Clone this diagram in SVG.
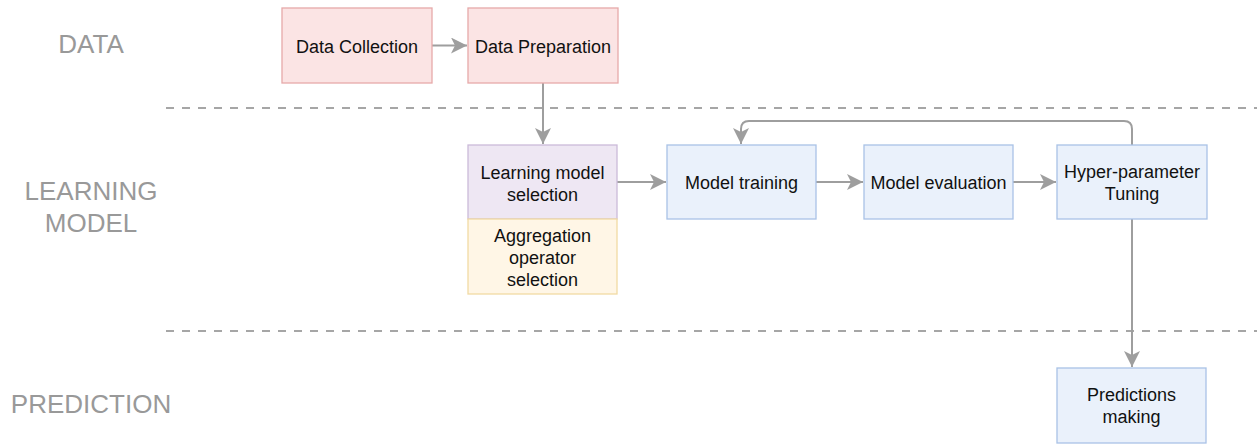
<svg xmlns="http://www.w3.org/2000/svg" width="1257" height="444" viewBox="0 0 1257 444">
<style>
.lane{font-family:"Liberation Sans",Arial,sans-serif;font-size:26px;fill:#999999;text-anchor:middle}
.t{font-family:"Liberation Sans",Arial,sans-serif;font-size:18px;fill:#111111;text-anchor:middle}
.pink{fill:#fbe4e4;stroke:#e6a9a9;stroke-width:1.3}
.purple{fill:#eee7f3;stroke:#cbbbd9;stroke-width:1.3}
.yellow{fill:#fff6e6;stroke:#f1daa4;stroke-width:1.3}
.blue{fill:#eaf1fb;stroke:#a9c2e6;stroke-width:1.3}
.c{fill:none;stroke:#9e9e9e;stroke-width:2;marker-end:url(#ah)}
.sep{fill:none;stroke:#a6a6a6;stroke-width:2;stroke-dasharray:8 8}
</style>
<defs>
<marker id="ah" viewBox="0 0 10 10" refX="10" refY="5" markerWidth="8" markerHeight="8" markerUnits="strokeWidth" orient="auto">
<path d="M0,0 L10,5 L0,10 L2.5,5 Z" fill="#9e9e9e"/>
</marker>
</defs>
<rect width="1257" height="444" fill="#ffffff"/>
<g id="lanes">
<text class="lane" x="91" y="53">DATA</text>
<text class="lane" x="91" y="200">LEARNING</text>
<text class="lane" x="91" y="232">MODEL</text>
<text class="lane" x="91" y="413">PREDICTION</text>
<line class="sep" x1="166" y1="108" x2="1257" y2="108"/>
<line class="sep" x1="166" y1="331" x2="1257" y2="331"/>
</g>
<g id="connectors">
<line class="c" x1="432" y1="45.5" x2="467" y2="45.5"/>
<line class="c" x1="543" y1="83" x2="543" y2="144"/>
<line class="c" x1="617" y1="182" x2="666" y2="182"/>
<line class="c" x1="816" y1="182" x2="863" y2="182"/>
<line class="c" x1="1013" y1="182" x2="1056" y2="182"/>
<line class="c" x1="1132" y1="219" x2="1132" y2="367"/>
<path class="c" d="M1132,145 L1132,129 Q1132,121 1124,121 L749,121 Q741,121 741,129 L741,144"/>
</g>
<g id="data-collection">
<rect class="pink" x="282" y="8" width="150" height="75"/>
<text class="t" x="357" y="53">Data Collection</text>
</g>
<g id="data-preparation">
<rect class="pink" x="468" y="8" width="150" height="75"/>
<text class="t" x="543" y="53">Data Preparation</text>
</g>
<g id="learning-model-selection">
<rect class="purple" x="468" y="145" width="149" height="74"/>
<text class="t" x="542.5" y="179">Learning model</text>
<text class="t" x="542.5" y="201">selection</text>
</g>
<g id="aggregation-operator-selection">
<rect class="yellow" x="468" y="219" width="149" height="75"/>
<text class="t" x="542.5" y="242">Aggregation</text>
<text class="t" x="542.5" y="264">operator</text>
<text class="t" x="542.5" y="286">selection</text>
</g>
<g id="model-training">
<rect class="blue" x="667" y="145" width="149" height="74"/>
<text class="t" x="741.5" y="189">Model training</text>
</g>
<g id="model-evaluation">
<rect class="blue" x="864" y="145" width="149" height="74"/>
<text class="t" x="938.5" y="189">Model evaluation</text>
</g>
<g id="hyper-parameter-tuning">
<rect class="blue" x="1057" y="145" width="150" height="74"/>
<text class="t" x="1132" y="178">Hyper-parameter</text>
<text class="t" x="1132" y="200">Tuning</text>
</g>
<g id="predictions-making">
<rect class="blue" x="1057" y="368" width="149" height="75"/>
<text class="t" x="1131.5" y="401">Predictions</text>
<text class="t" x="1131.5" y="423">making</text>
</g>
</svg>
